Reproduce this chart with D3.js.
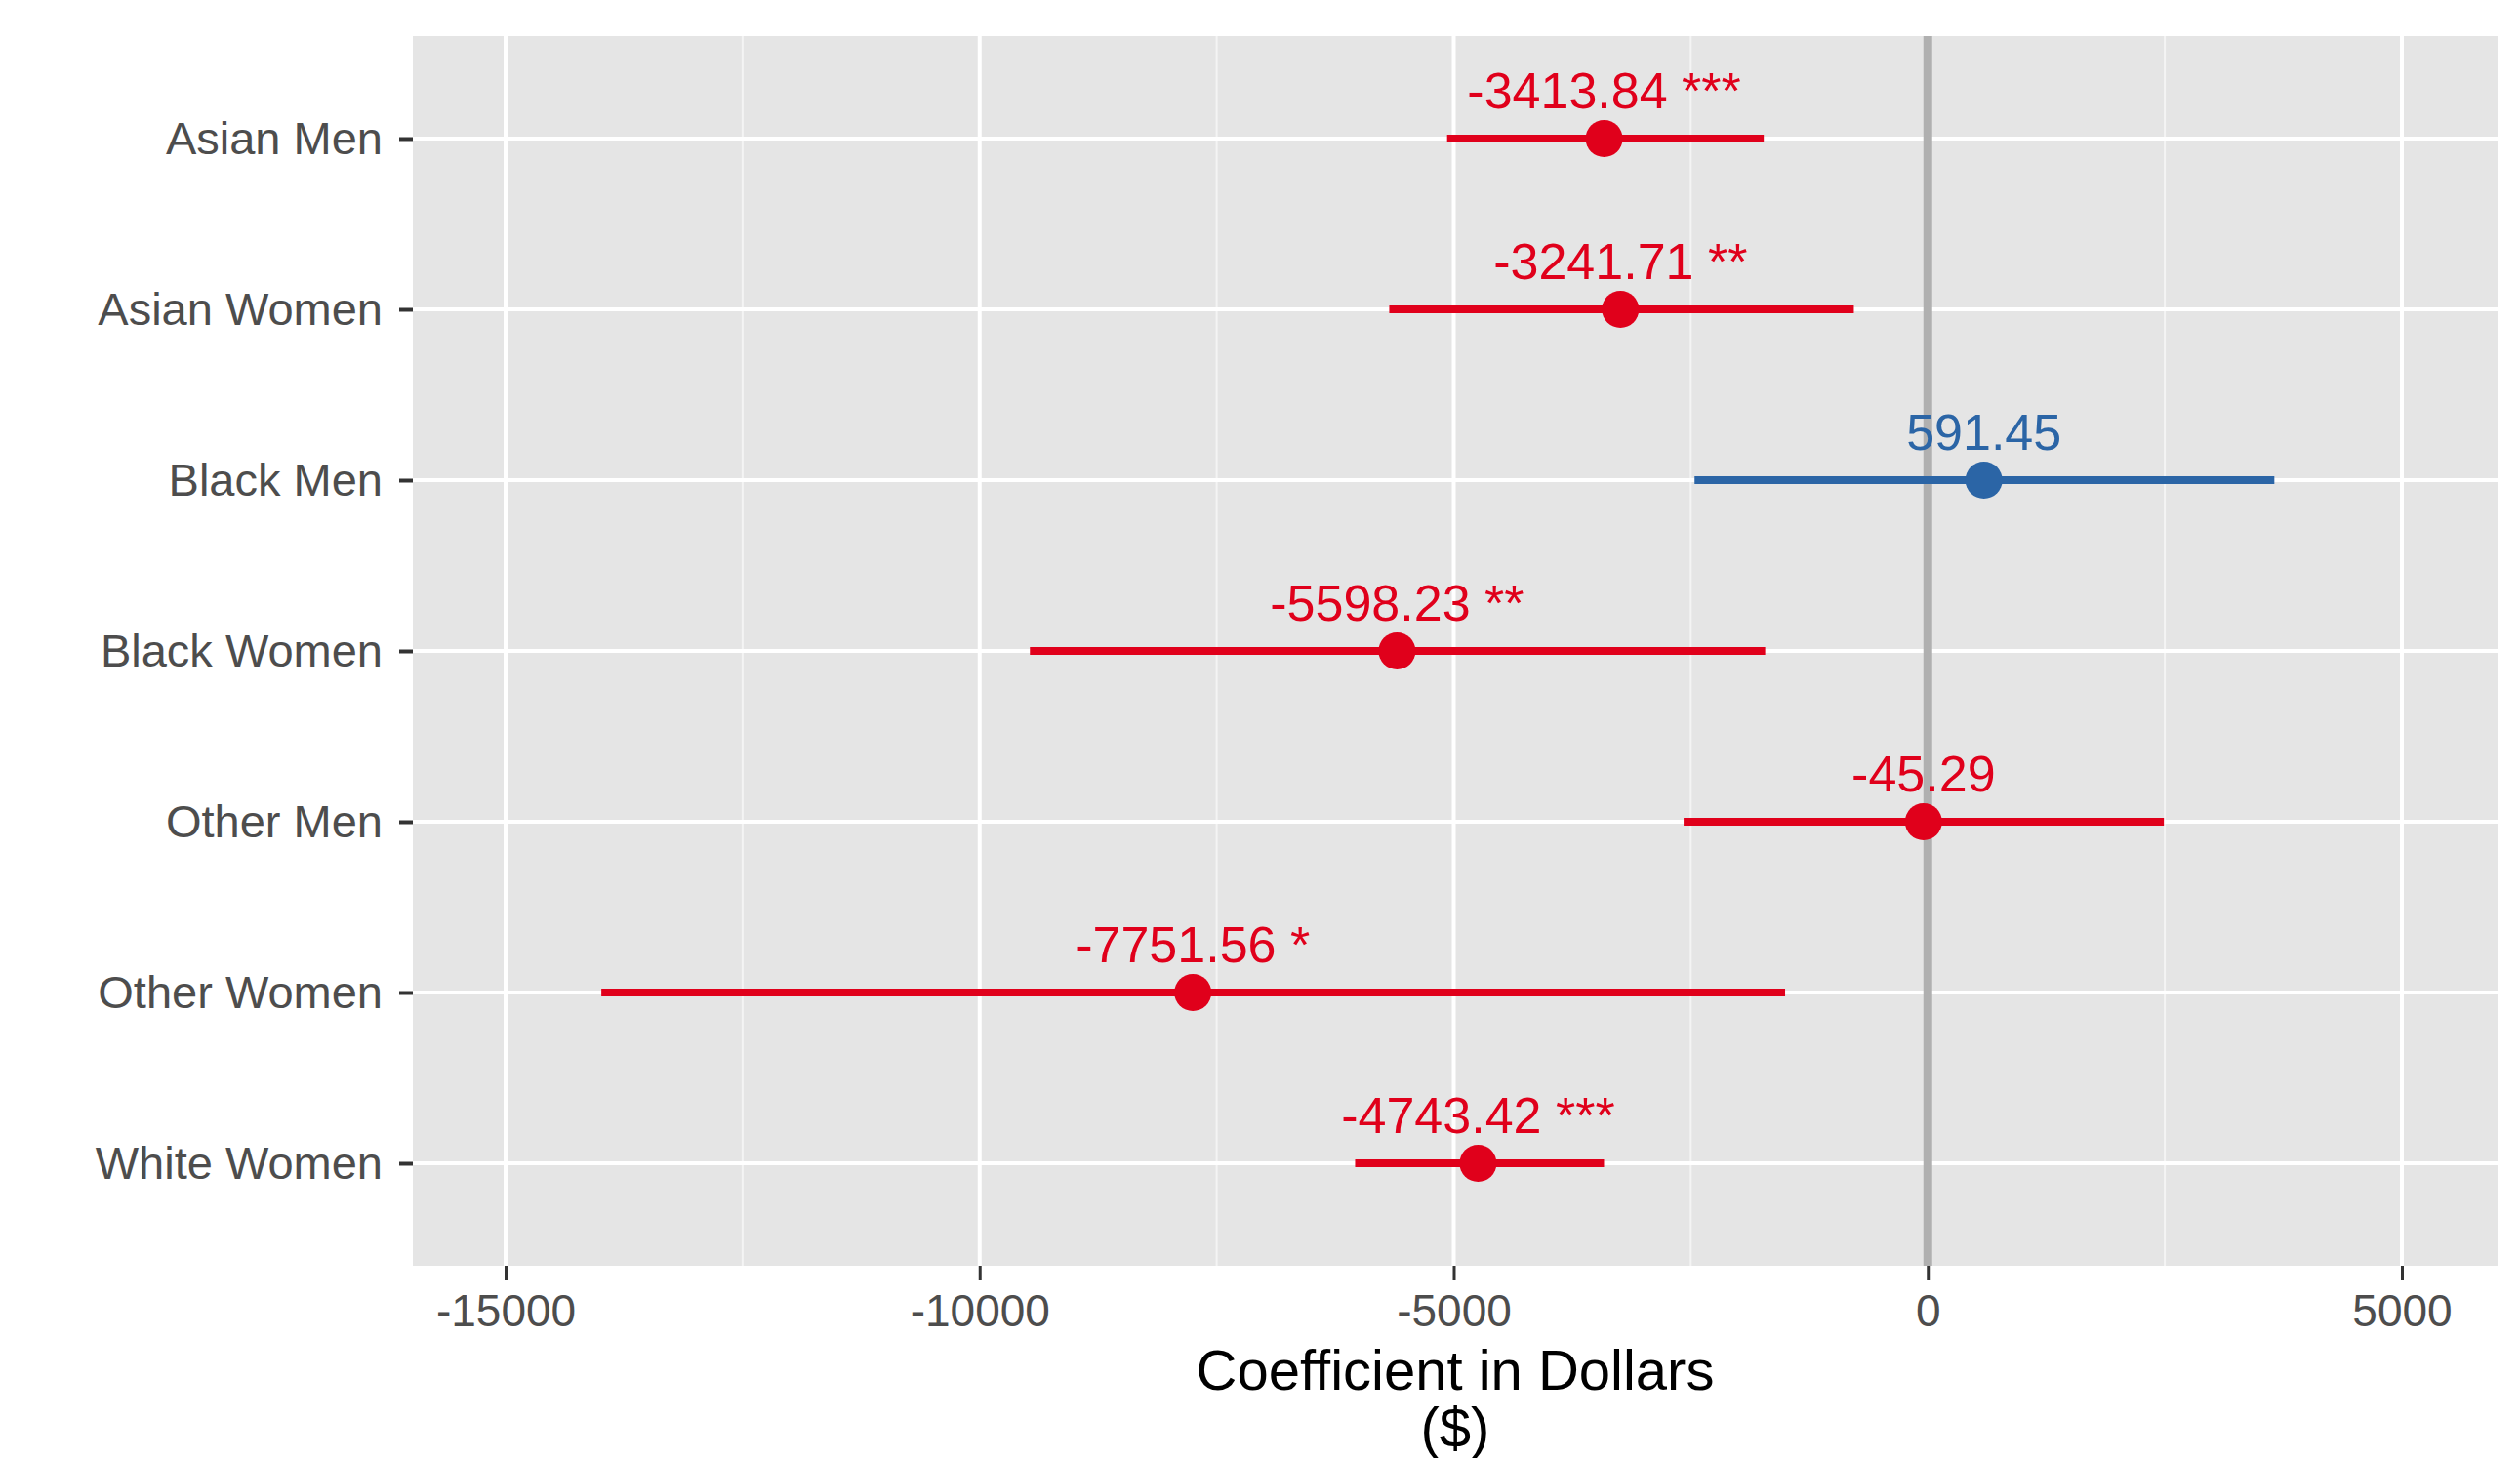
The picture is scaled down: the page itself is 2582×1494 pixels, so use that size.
<!DOCTYPE html>
<html>
<head>
<meta charset="utf-8">
<script src="https://cdn.jsdelivr.net/npm/d3@7"></script>
<style>
  html, body { margin: 0; padding: 0; background: #ffffff; }
  svg { display: block; font-family: "Liberation Sans", Arial, Helvetica, sans-serif; }
</style>
</head>
<body>
<svg id="chart" width="2582" height="1494"></svg>
<script>
// ---- Data ----
const categories = ["Asian Men", "Asian Women", "Black Men", "Black Women", "Other Men", "Other Women", "White Women"];
const estimates  = [-3413.84, -3241.71, 591.45, -5598.23, -45.29, -7751.56, -4743.42];
const lowerCI    = [-5070, -5680, -2460, -9470, -2575, -13990, -6040];
const upperCI    = [-1730, -780, 3655, -1715, 2490, -1505, -3415];
const stars      = ["***", "**", "", "**", "", "*", "***"];
const positive   = [false, false, true, false, false, false, false];
const majorTicks = [-15000, -10000, -5000, 0, 5000];
const minorTicks = [-12500, -7500, -2500, 2500];
const xTitleLines = ["Coefficient in Dollars", "($)"];

// ---- Layout ----
const panel = { left: 423, right: 2559, top: 37, bottom: 1297 };
const red = "#e0001b", blue = "#2b65a6";

const svg = d3.select("#chart");
const x = d3.scaleLinear().domain([-15978, 6009]).range([panel.left, panel.right]);
const y = d3.scalePoint().domain(categories).range([panel.top, panel.bottom]).padding(0.6);

// panel background
svg.append("rect")
  .attr("x", panel.left).attr("y", panel.top)
  .attr("width", panel.right - panel.left).attr("height", panel.bottom - panel.top)
  .attr("fill", "#e5e5e5");

const grid = svg.append("g");
grid.selectAll("line.minor").data(minorTicks).join("line")
  .attr("x1", d => x(d)).attr("x2", d => x(d))
  .attr("y1", panel.top).attr("y2", panel.bottom)
  .attr("stroke", "#f4f4f4").attr("stroke-width", 2);
grid.selectAll("line.majorx").data(majorTicks).join("line")
  .attr("x1", d => x(d)).attr("x2", d => x(d))
  .attr("y1", panel.top).attr("y2", panel.bottom)
  .attr("stroke", "#ffffff").attr("stroke-width", 4);
grid.selectAll("line.majory").data(categories).join("line")
  .attr("x1", panel.left).attr("x2", panel.right)
  .attr("y1", d => y(d)).attr("y2", d => y(d))
  .attr("stroke", "#ffffff").attr("stroke-width", 4);

// zero reference line
svg.append("line")
  .attr("x1", x(0)).attr("x2", x(0))
  .attr("y1", panel.top).attr("y2", panel.bottom)
  .attr("stroke", "#b0b0b0").attr("stroke-width", 9);

const rows = categories.map((c, i) => ({
  cat: c, est: estimates[i], lo: lowerCI[i], hi: upperCI[i],
  label: (estimates[i].toFixed(2) + (stars[i] ? " " + stars[i] : "")),
  color: positive[i] ? blue : red
}));

const marks = svg.append("g");
marks.selectAll("line.ci").data(rows).join("line")
  .attr("x1", d => x(d.lo)).attr("x2", d => x(d.hi))
  .attr("y1", d => y(d.cat)).attr("y2", d => y(d.cat))
  .attr("stroke", d => d.color).attr("stroke-width", 8);
marks.selectAll("circle").data(rows).join("circle")
  .attr("cx", d => x(d.est)).attr("cy", d => y(d.cat)).attr("r", 19)
  .attr("fill", d => d.color);
marks.selectAll("text").data(rows).join("text")
  .attr("x", d => x(d.est)).attr("y", d => y(d.cat) - 31)
  .attr("text-anchor", "middle")
  .attr("font-size", 52)
  .attr("fill", d => d.color)
  .text(d => d.label);

// x axis
const xAxis = svg.append("g")
  .attr("transform", `translate(0,${panel.bottom})`)
  .call(d3.axisBottom(x).tickValues(majorTicks).tickSize(15).tickPadding(14).tickFormat(d3.format("d")));
xAxis.select(".domain").remove();
xAxis.selectAll(".tick line").attr("stroke", "#333333").attr("stroke-width", 3);
xAxis.selectAll(".tick text")
  .attr("font-size", 46).attr("fill", "#4d4d4d")
  .attr("font-family", "'Liberation Sans', Arial, sans-serif")
  .text(d => d3.format("d")(d).replace("\u2212", "-"));

// y axis
const yAxis = svg.append("g")
  .attr("transform", `translate(${panel.left},0)`)
  .call(d3.axisLeft(y).tickSize(14).tickPadding(17));
yAxis.select(".domain").remove();
yAxis.selectAll(".tick line").attr("stroke", "#333333").attr("stroke-width", 4);
yAxis.selectAll(".tick text")
  .attr("font-size", 47).attr("fill", "#4d4d4d")
  .attr("font-family", "'Liberation Sans', Arial, sans-serif");

// x title
svg.append("g").selectAll("text").data(xTitleLines).join("text")
  .attr("x", (panel.left + panel.right) / 2)
  .attr("y", (d, i) => 1424 + i * 59)
  .attr("text-anchor", "middle")
  .attr("font-size", 58)
  .attr("fill", "#000000")
  .text(d => d);
</script>
</body>
</html>
